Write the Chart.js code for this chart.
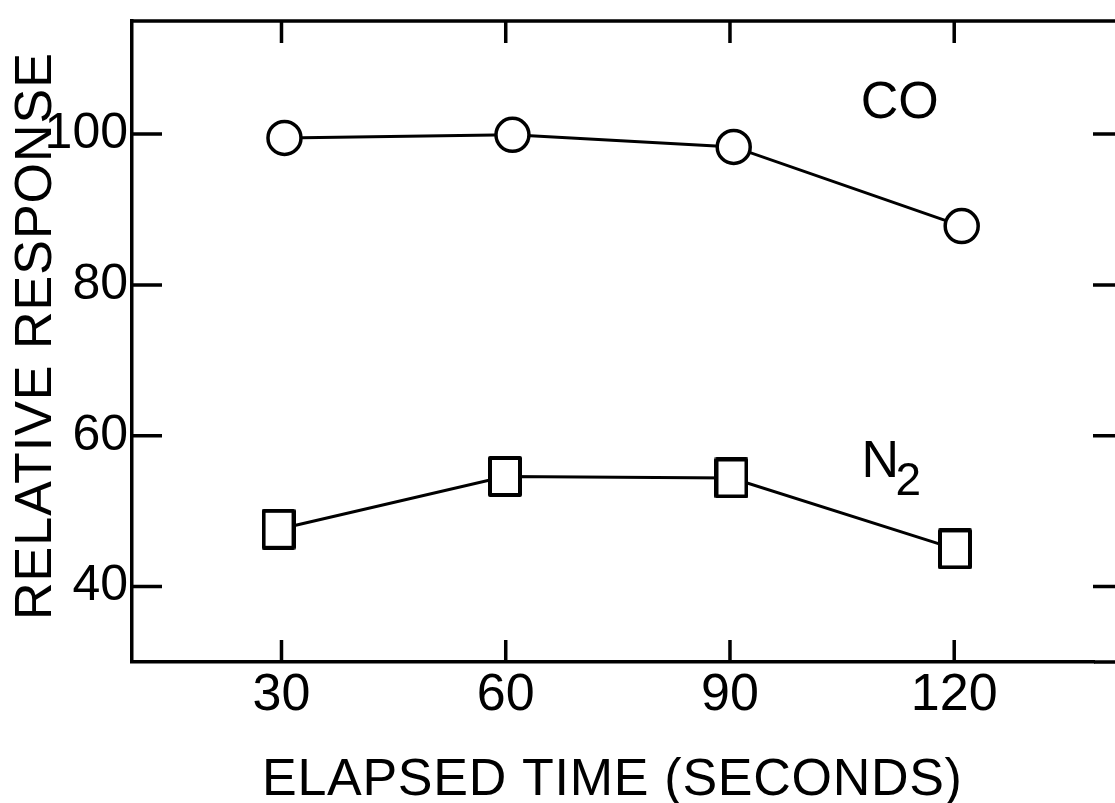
<!DOCTYPE html>
<html>
<head>
<meta charset="utf-8">
<script src="https://cdn.jsdelivr.net/npm/chart.js@4.4.1/dist/chart.umd.min.js"></script>
<style>
  html, body { margin: 0; padding: 0; background: #fff; overflow: hidden; }
  canvas { display: block; }
</style>
</head>
<body>
<canvas id="chart" width="1115" height="803"></canvas>
<script>
const xTicks = [30, 60, 90, 120];
const yTicks = [40, 60, 80, 100];

const coTimes = [30.4, 60.9, 90.5, 121.0];
const coValues = [99.5, 99.9, 98.3, 87.8];

const n2Times = [29.6, 59.9, 90.2, 120.1];
const n2Values = [47.6, 54.6, 54.4, 45.0];

const FONT = "'Liberation Sans', Arial, sans-serif";

// square marker, a bit taller than wide like the original
const squareMark = document.createElement("canvas");
squareMark.width = 34;
squareMark.height = 41;
(() => {
  const c = squareMark.getContext("2d");
  c.fillStyle = "#fff";
  c.fillRect(2, 2, 30, 37);
  c.lineWidth = 4;
  c.strokeStyle = "#000";
  c.lineJoin = "round";
  c.strokeRect(2, 2, 30, 37);
})();

const toPoints = (xs, ys) => xs.map((x, i) => ({ x: x, y: ys[i] }));

// inward tick marks on all four sides, top frame, titles and series labels
// the right side of the frame is cut off in the scan, so only its ticks reach the edge
const frame = {
  id: "frame",
  afterDraw(chart) {
    const { ctx, chartArea: a, scales } = chart;
    const xs = scales.x, ys = scales.y;
    const edge = chart.width;
    ctx.save();
    ctx.strokeStyle = "#000";
    ctx.lineWidth = 3.5;
    ctx.lineCap = "butt";
    ctx.beginPath();
    ctx.moveTo(a.left - 1.75, a.top);
    ctx.lineTo(edge, a.top);
    ctx.moveTo(a.right, a.bottom);
    ctx.lineTo(edge, a.bottom);
    xTicks.forEach((v) => {
      const px = xs.getPixelForValue(v);
      ctx.moveTo(px, a.bottom);
      ctx.lineTo(px, a.bottom - 22);
      ctx.moveTo(px, a.top);
      ctx.lineTo(px, a.top + 22);
    });
    yTicks.forEach((v) => {
      const py = ys.getPixelForValue(v);
      ctx.moveTo(a.left, py);
      ctx.lineTo(a.left + 30, py);
      ctx.moveTo(edge, py);
      ctx.lineTo(edge - 22, py);
    });
    ctx.stroke();

    ctx.fillStyle = "#000";
    ctx.textBaseline = "alphabetic";

    // series labels
    ctx.font = "52px " + FONT;
    ctx.textAlign = "left";
    ctx.fillText("CO", xs.getPixelForValue(107.5), ys.getPixelForValue(102.2));
    const nx = xs.getPixelForValue(107.6), ny = ys.getPixelForValue(54.5);
    ctx.fillText("N", nx, ny);
    ctx.font = "46px " + FONT;
    ctx.fillText("2", nx + 34, ny + 18);

    // axis titles with spread-out lettering
    const spaced = (text, left, baseline, width) => {
      ctx.letterSpacing = "0px";
      const w0 = ctx.measureText(text).width;
      ctx.letterSpacing = ((width - w0) / (text.length - 1)).toFixed(2) + "px";
      ctx.textAlign = "left";
      ctx.fillText(text, left, baseline);
      ctx.letterSpacing = "0px";
    };
    ctx.font = "52px " + FONT;
    spaced("ELAPSED TIME (SECONDS)", 262, 795, 700);

    ctx.save();
    ctx.translate(51, 620);
    ctx.rotate(-Math.PI / 2);
    spaced("RELATIVE RESPONSE", 0, 0, 567);
    ctx.restore();

    ctx.restore();
  },
};

new Chart(document.getElementById("chart"), {
  type: "scatter",
  data: {
    datasets: [
      {
        label: "CO",
        data: toPoints(coTimes, coValues),
        showLine: true,
        borderColor: "#000",
        borderWidth: 3,
        pointStyle: "circle",
        pointRadius: 16.5,
        pointBorderWidth: 3.5,
        pointBackgroundColor: "#fff",
        pointBorderColor: "#000",
      },
      {
        label: "N2",
        data: toPoints(n2Times, n2Values),
        showLine: true,
        borderColor: "#000",
        borderWidth: 3,
        pointStyle: squareMark,
        pointRadius: 18,
      },
    ],
  },
  options: {
    responsive: false,
    animation: false,
    layout: { padding: { top: 14, right: 0, left: 0, bottom: 0 } },
    plugins: { legend: { display: false }, tooltip: { enabled: false } },
    scales: {
      x: {
        type: "linear",
        min: 10,
        max: 138.7,
        afterBuildTicks: (s) => { s.ticks = xTicks.map((v) => ({ value: v })); },
        afterFit: (s) => { s.height = 141; s.paddingLeft = 0; s.paddingRight = 0; },
        grid: { display: false, drawTicks: false },
        border: { display: true, color: "#000", width: 3.5 },
        ticks: {
          color: "#000",
          padding: 2,
          maxRotation: 0,
          autoSkip: false,
          font: { family: FONT, size: 52 },
        },
      },
      y: {
        type: "linear",
        min: 30,
        max: 115,
        afterBuildTicks: (s) => { s.ticks = yTicks.map((v) => ({ value: v })); },
        afterFit: (s) => { s.width = 132; s.paddingTop = 0; s.paddingBottom = 0; },
        grid: { display: false, drawTicks: false },
        border: { display: true, color: "#000", width: 3.5 },
        ticks: {
          color: "#000",
          padding: 4,
          autoSkip: false,
          font: { family: FONT, size: 50 },
        },
      },
    },
  },
  plugins: [frame],
});
</script>
</body>
</html>
